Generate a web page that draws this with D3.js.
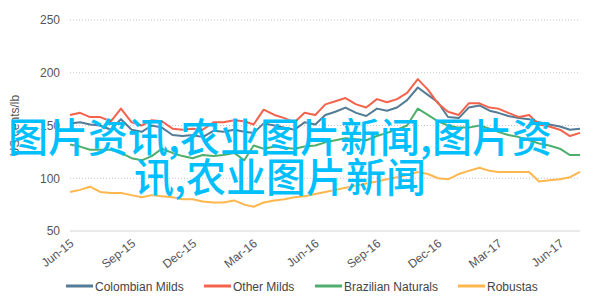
<!DOCTYPE html>
<html>
<head>
<meta charset="utf-8">
<script src="https://cdn.jsdelivr.net/npm/d3@7/dist/d3.min.js"></script>
<style>
html,body{margin:0;padding:0;background:#fff;}
svg{display:block;}
</style>
</head>
<body>
<svg id="chart" width="599" height="302"></svg>
<script>
// Semi-monthly observations, Jun 2015 – Jul 2017
const dates = d3.range(51).map(i => new Date(2015, 5 + Math.floor(i / 2), i % 2 ? 16 : 1));

const colombianMilds = [152,153,151,150,146,156,146,144,150,148,141,140,141,139,145,144,146,144,143,152,150,148,146,153,151,160,163,167,162,159,166,164,167,174,186,179,172,158,157,167,169,164,162,159,157,156,153,151,149,146,147];
const otherMilds = [160,162,158,158,154,166,153,150,155,154,147,146,147,146,153,153,155,154,151,165,160,157,153,162,160,170,173,176,170,167,175,172,175,181,194,184,171,163,160,171,171,167,166,162,158,160,151,149,146,140,143];
const brazilianNaturals = [132,130,127,127,127,124,119,117,121,128,124,121,119,122,121,122,124,117,131,128,130,129,128,130,131,134,136,138,137,136,140,143,146,150,166,160,154,150,148,148,150,147,144,141,139,136,133,131,128,122,122];
const robustas = [87,89,92,87,86,86,84,82,84,83,82,80,80,78,77,77,79,75,73,77,79,80,82,83,85,87,89,91,93,95,97,99,101,103,106,104,100,99,104,107,110,107,106,106,106,106,97,98,99,101,106];

const seriesNames = ["Colombian Milds", "Other Milds", "Brazilian Naturals", "Robustas"];
const seriesValues = [colombianMilds, otherMilds, brazilianNaturals, robustas];
const seriesColors = ["#537b96", "#f4624c", "#4fae6c", "#ffb74d"];

const yTicks = [50, 100, 150, 200, 250];
const xTickLabels = ["Jun-15","Sep-15","Dec-15","Mar-16","Jun-16","Sep-16","Dec-16","Mar-17","Jun-17"];
const xTickDates = [new Date(2015,5,1),new Date(2015,8,1),new Date(2015,11,1),new Date(2016,2,1),new Date(2016,5,1),new Date(2016,8,1),new Date(2016,11,1),new Date(2017,2,1),new Date(2017,5,1)];
const yTitle = "US cents/lb";
const overlayLines = ["图片资讯,农业图片新闻,图片资", "讯,农业图片新闻"];

const svg = d3.select("#chart");
const x = d3.scaleTime().domain([new Date(2015,5,1), new Date(2017,6,1)]).range([70, 580]);
const y = d3.scaleLinear().domain([50, 250]).range([231, 20]);

// grid
svg.append("g").selectAll("line").data(yTicks.filter(d => d !== 50)).join("line")
  .attr("x1", 70).attr("x2", 580)
  .attr("y1", d => y(d)).attr("y2", d => y(d))
  .attr("stroke", "#c8c8c8").attr("stroke-width", 1).attr("stroke-dasharray", "1,2");
svg.append("line").attr("x1", 70).attr("x2", 580).attr("y1", y(50)).attr("y2", y(50))
  .attr("stroke", "#e2e2e2").attr("stroke-width", 1.5);

// y axis
const yAxis = d3.axisLeft(y).tickValues(yTicks).tickSize(0).tickPadding(10);
const gy = svg.append("g").attr("transform", "translate(70,0)").call(yAxis);
gy.select(".domain").remove();
gy.selectAll("text").attr("font-family", "Liberation Sans, Arial, sans-serif").attr("font-size", 12).attr("fill", "#555");

svg.append("text").attr("transform", `translate(19,${(y(50)+y(250))/2}) rotate(-90)`)
  .attr("text-anchor", "middle").attr("font-family", "Liberation Sans, Arial, sans-serif")
  .attr("font-size", 12).attr("fill", "#555").text(yTitle);

// x axis
const xAxis = d3.axisBottom(x).tickValues(xTickDates).tickFormat((d, i) => xTickLabels[i]).tickSize(0).tickPadding(0);
const gx = svg.append("g").attr("transform", `translate(0,${y(50)})`).call(xAxis);
gx.select(".domain").remove();
gx.selectAll("text")
  .attr("font-family", "Liberation Sans, Arial, sans-serif").attr("font-size", 12).attr("fill", "#555")
  .attr("text-anchor", "end").attr("dy", 0).attr("y", 0)
  .attr("transform", "translate(4,14) rotate(-38)");

// lines
const line = d3.line().x((d, i) => x(dates[i])).y(d => y(d));
svg.append("g").selectAll("path").data(seriesValues).join("path")
  .attr("d", d => line(d)).attr("fill", "none")
  .attr("stroke", (d, i) => seriesColors[i]).attr("stroke-width", 2).attr("stroke-linejoin", "round");

// legend
const legendX = [66, 204, 315, 458];
const lg = svg.append("g").selectAll("g").data(seriesNames).join("g")
  .attr("transform", (d, i) => `translate(${legendX[i]},286)`);
lg.append("line").attr("x1", 0).attr("x2", 27).attr("y1", 0).attr("y2", 0)
  .attr("stroke", (d, i) => seriesColors[i]).attr("stroke-width", 3);
lg.append("text").attr("x", 29).attr("y", 4.5)
  .attr("font-family", "Liberation Sans, Arial, sans-serif").attr("font-size", 12).attr("fill", "#444")
  .text(d => d);

// overlay text
svg.append("g").selectAll("text").data(overlayLines).join("text")
  .attr("x", 280).attr("y", (d, i) => 152 + i * 40)
  .attr("text-anchor", "middle")
  .attr("font-family", "Noto Sans CJK SC, sans-serif").attr("font-size", 40).attr("font-weight", 500)
  .attr("fill", "#00bfff").text(d => d);
</script>
</body>
</html>
